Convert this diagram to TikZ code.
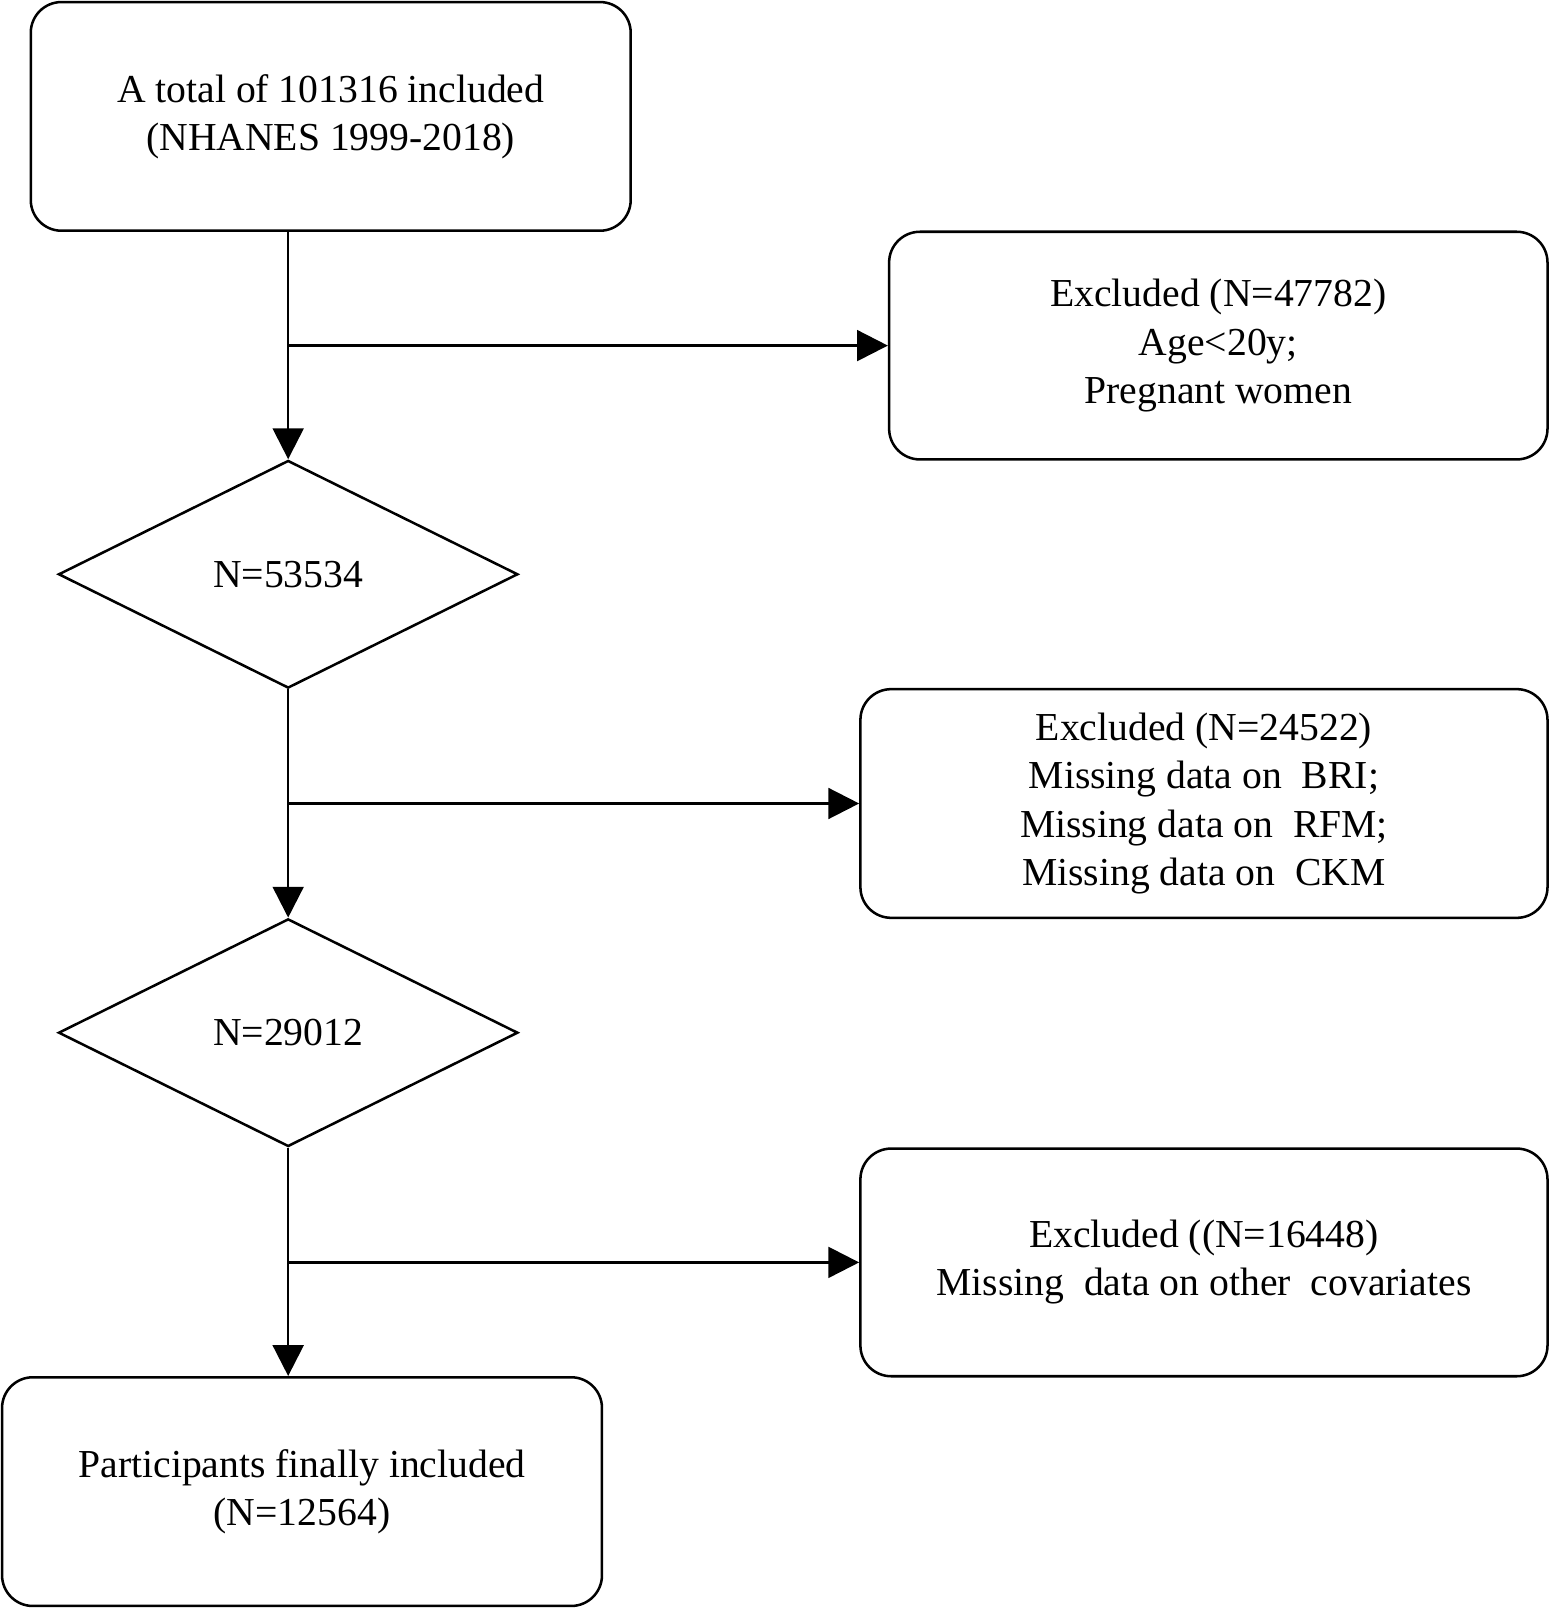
\documentclass[tikz,border=0pt]{standalone}
\usepackage{fontspec}
\setmainfont{Liberation Serif}
\usetikzlibrary{arrows.meta,shapes.geometric}

\begin{document}
\begin{tikzpicture}[line width=1.4pt,
    >={Triangle[length=0.6cm,width=0.6cm]},
    font=\fontsize{22}{26.7}\selectfont]

  \tikzset{box/.style={rectangle,draw,rounded corners=0.6cm,align=center},
           check/.style={diamond,draw,inner sep=0pt,minimum width=8.96cm,
                         minimum height=4.44cm,aspect=2}}

  \useasboundingbox (0,0) rectangle (30.22,-31.36);

  % main column
  \node[box,minimum width=11.7cm,minimum height=4.46cm] (total) at (6.45,-2.27)
       {A total of 101316 included\\(NHANES 1999-2018)};
  \node[check] (n1) at (5.62,-11.2) {N=53534};
  \node[check] (n2) at (5.62,-20.14) {N=29012};
  \node[box,minimum width=11.7cm,minimum height=4.46cm] (final) at (5.89,-29.09)
       {Participants finally included\\(N=12564)};

  % exclusions
  \node[box,minimum width=12.84cm,minimum height=4.44cm] (ex1) at (23.76,-6.74)
       {Excluded (N=47782)\\Age<20y;\\Pregnant women};
  \node[box,minimum width=13.4cm,minimum height=4.46cm] (ex2) at (23.48,-15.67)
       {Excluded (N=24522)\\Missing data on\ \ BRI;\\Missing data on\ \ RFM;\\Missing data on\ \ CKM};
  \node[box,minimum width=13.4cm,minimum height=4.44cm] (ex3) at (23.48,-24.62)
       {Excluded ((N=16448)\\Missing\ \ data on other\ \ covariates};

  \coordinate (b1) at (5.62,-6.74);
  \coordinate (b2) at (5.62,-15.67);
  \coordinate (b3) at (5.62,-24.62);

  \draw[->] (n1.north |- total.south) -- (n1.north);
  \draw[->] (n1.south) -- (n2.north);
  \draw[->] (n2.south) -- (n2.south |- final.north);
  \draw[->] (b1) -- (ex1.west);
  \draw[->] (b2) -- (ex2.west);
  \draw[->] (b3) -- (ex3.west);
\end{tikzpicture}
\end{document}
